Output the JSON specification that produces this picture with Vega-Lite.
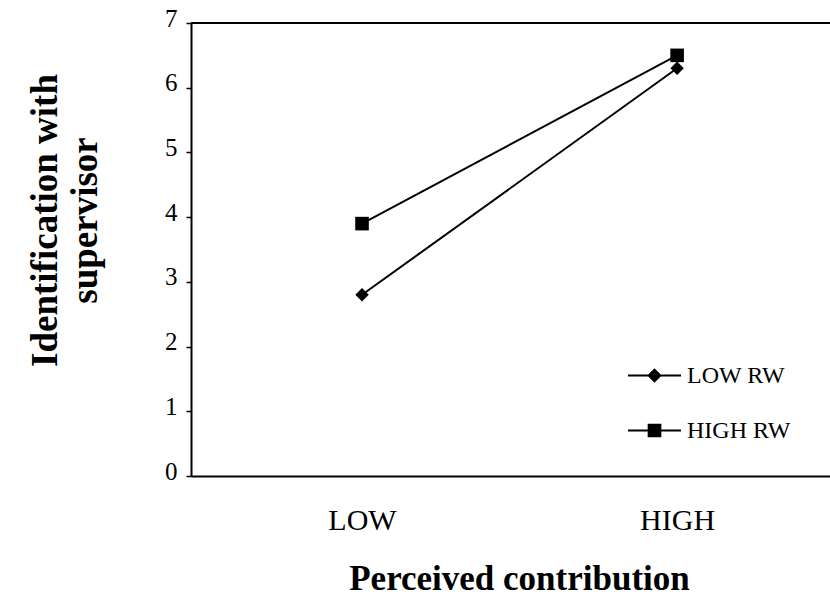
{
  "$schema": "https://vega.github.io/schema/vega-lite/v6.json",
  "width": 639,
  "height": 453,
  "autosize": {"type": "none"},
  "padding": {"left": 191, "top": 23, "right": 0, "bottom": 121},
  "background": "white",
  "config": {"view": {"stroke": null}, "font": "Liberation Serif"},
  "data": {
    "values": [
      {"contribution": "LOW", "group": "LOW RW", "identification": 2.8},
      {"contribution": "HIGH", "group": "LOW RW", "identification": 6.3},
      {"contribution": "LOW", "group": "HIGH RW", "identification": 3.9},
      {"contribution": "HIGH", "group": "HIGH RW", "identification": 6.5}
    ]
  },
  "layer": [
    {
      "mark": {"type": "rule", "color": "black", "strokeWidth": 2},
      "encoding": {"y": {"datum": 7, "type": "quantitative", "scale": {"domain": [0, 7]}}}
    },
    {
      "mark": {"type": "line", "strokeWidth": 2},
      "encoding": {
        "x": {
          "field": "contribution", "type": "ordinal", "sort": ["LOW", "HIGH"],
          "scale": {"type": "point", "padding": 0.514, "align": 0.528},
          "axis": {
            "title": "Perceived contribution", "titleFontSize": 35, "titleFontWeight": "bold",
            "titleColor": "black", "titlePadding": 26, "titleX": 328,
            "labelAngle": 0, "labelFontSize": 30, "labelColor": "black", "labelPadding": 29,
            "ticks": false, "domainColor": "black", "domainWidth": 2, "grid": false
          }
        },
        "y": {
          "field": "identification", "type": "quantitative",
          "scale": {"domain": [0, 7], "nice": false, "zero": true},
          "axis": {
            "title": ["Identification with", "supervisor"], "titleFontSize": 37,
            "titleFontWeight": "bold", "titleColor": "black", "titleLineHeight": 40,
            "titlePadding": 60, "titleY": 197,
            "values": [0, 1, 2, 3, 4, 5, 6, 7], "format": "d", "labelFontSize": 25, "labelColor": "black",
            "labelPadding": 9, "labelOffset": -5, "tickSize": 5, "tickColor": "black", "tickWidth": 1.5,
            "domainColor": "black", "domainWidth": 2, "grid": false
          }
        },
        "detail": {"field": "group"},
        "color": {
          "field": "group", "type": "nominal",
          "scale": {"domain": ["LOW RW", "HIGH RW"], "range": ["black", "black"]},
          "legend": {
            "title": null, "orient": "none", "legendX": 436, "legendY": 325,
            "symbolSize": 2809, "rowPadding": 15, "labelOffset": 5, "labelFontSize": 24,
            "labelColor": "black", "padding": 0, "symbolStrokeWidth": 2,
            "encode": {
              "symbols": {
                "update": {
                  "shape": {"signal": "datum.value === 'LOW RW' ? 'M-1,0H1M0,-0.22L0.22,0L0,0.22L-0.22,0Z' : 'M-1,0H1M-0.22,-0.22H0.22V0.22H-0.22Z'"},
                  "fill": {"value": "black"},
                  "stroke": {"value": "black"},
                  "strokeWidth": {"value": 2}
                }
              }
            }
          }
        }
      }
    },
    {
      "transform": [{"filter": "datum.group === 'LOW RW'"}],
      "mark": {"type": "point", "shape": "diamond", "filled": true, "opacity": 1, "color": "black", "size": 180},
      "encoding": {
        "x": {"field": "contribution", "type": "ordinal", "sort": ["LOW", "HIGH"]},
        "y": {"field": "identification", "type": "quantitative"}
      }
    },
    {
      "transform": [{"filter": "datum.group === 'HIGH RW'"}],
      "mark": {"type": "point", "shape": "square", "filled": true, "opacity": 1, "color": "black", "size": 185},
      "encoding": {
        "x": {"field": "contribution", "type": "ordinal", "sort": ["LOW", "HIGH"]},
        "y": {"field": "identification", "type": "quantitative"}
      }
    }
  ]
}
